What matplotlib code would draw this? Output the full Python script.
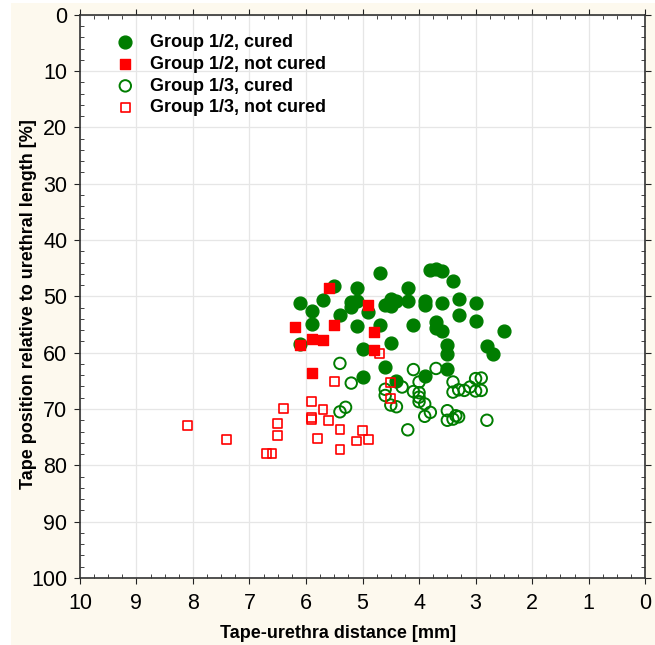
import matplotlib.pyplot as plt
from matplotlib.patches import Rectangle
from matplotlib.ticker import MultipleLocator

plt.rcParams["font.family"] = ["Liberation Sans", "DejaVu Sans"]

# Group 1/2, cured
g12_cured_x = [5.5, 4.7, 3.8, 3.7, 3.6, 3.4,
               6.1, 5.9, 5.7, 5.9, 5.4, 6.1,
               5.2, 5.1, 5.2, 5.1, 5.1, 4.9,
               4.7, 5.0, 5.0, 4.6, 4.5, 4.5, 4.4,
               4.2, 4.2, 4.1, 4.5, 4.6, 4.4,
               3.9, 3.9, 3.9, 3.7, 3.7, 3.6, 3.6,
               3.5, 3.5, 3.5, 3.3, 3.3, 3.0, 3.0,
               2.8, 2.7, 2.5]
g12_cured_y = [48.2, 45.8, 45.3, 45.1, 45.5, 47.2,
               51.2, 52.6, 50.6, 54.9, 53.3, 58.5,
               51.0, 50.8, 51.9, 48.6, 55.3, 52.7,
               55.1, 59.4, 64.3, 51.5, 50.4, 51.7, 50.9,
               48.6, 50.8, 55.0, 58.3, 62.5, 65.1,
               50.9, 51.6, 64.1, 54.6, 55.7, 56.1, 51.2,
               58.6, 60.2, 62.9, 50.5, 53.3, 51.2, 54.4,
               58.9, 60.3, 56.1]

# Group 1/2, not cured
g12_not_x = [5.6, 4.9, 6.2, 5.5, 5.9, 5.7, 4.8, 6.1, 4.8, 5.9]
g12_not_y = [48.5, 51.5, 55.5, 55.0, 57.6, 57.7, 56.3, 58.7, 59.6, 63.6]

# Group 1/3, cured
g13_cured_x = [5.4, 5.2, 5.3, 5.4,
               4.6, 4.6, 4.5, 4.4, 4.3, 4.2,
               4.1, 4.1, 4.0, 4.0, 4.0, 4.0, 3.9, 3.9, 3.8,
               3.7, 3.5, 3.5, 3.4, 3.4, 3.4, 3.35, 3.3, 3.3, 3.2, 3.1,
               3.0, 3.0, 2.9, 2.9, 2.8]
g13_cured_y = [61.9, 65.4, 69.7, 70.5,
               66.5, 67.6, 69.3, 69.6, 66.1, 73.7,
               63.0, 66.9, 65.2, 67.1, 67.9, 68.7, 69.1, 71.3, 70.6,
               62.8, 70.3, 72.0, 65.2, 67.0, 71.8, 71.2, 66.6, 71.4, 66.7, 66.1,
               64.6, 66.8, 64.5, 66.7, 72.0]

# Group 1/3, not cured
g13_not_x = [8.1, 7.4, 6.7, 6.6, 6.4, 6.5, 6.5,
             5.9, 5.9, 5.9, 5.7, 5.6, 5.8, 5.5,
             5.4, 5.4, 5.1, 5.0, 4.9, 4.7, 4.5, 4.5]
g13_not_y = [72.9, 75.4, 77.9, 77.9, 69.9, 72.6, 74.7,
             68.7, 71.5, 71.9, 70.1, 72.1, 75.3, 65.1,
             73.6, 77.2, 75.7, 73.8, 75.4, 60.1, 65.3, 68.1]

green = "#007d00"
red = "#ff0000"

fig = plt.figure(figsize=(6.55, 6.45), dpi=100, facecolor="white")
fig.patches.append(Rectangle((0.017, 0), 0.983, 0.995, transform=fig.transFigure,
                             facecolor="#fdf9ee", edgecolor="none", zorder=-10))
ax = fig.add_axes([0.122, 0.104, 0.863, 0.873])
ax.set_facecolor("white")

ax.scatter(g12_cured_x, g12_cured_y, s=85, marker="o", color=green,
           label="Group 1/2, cured", zorder=3)
ax.scatter(g12_not_x, g12_not_y, s=50, marker="s", color=red,
           label="Group 1/2, not cured", zorder=4)
ax.scatter(g13_cured_x, g13_cured_y, s=68, marker="o", facecolors="none",
           edgecolors=green, linewidths=1.4, label="Group 1/3, cured", zorder=3)
ax.scatter(g13_not_x, g13_not_y, s=40, marker="s", facecolors="none",
           edgecolors=red, linewidths=1.2, label="Group 1/3, not cured", zorder=4)

ax.set_xlim(10, 0)
ax.set_ylim(100, 0)
ax.xaxis.set_major_locator(MultipleLocator(1))
ax.xaxis.set_minor_locator(MultipleLocator(0.25))
ax.yaxis.set_major_locator(MultipleLocator(10))
ax.yaxis.set_minor_locator(MultipleLocator(2))

ax.grid(True, which="major", color="#e6e6e6", linewidth=0.9, zorder=0)
ax.set_axisbelow(True)
ax.tick_params(which="major", direction="out", length=4, labelsize=15.5,
               colors="#222222", labelcolor="black", top=True, right=True)
ax.tick_params(axis="x", which="major", pad=7)
ax.tick_params(axis="y", which="major", pad=5)
ax.tick_params(which="minor", direction="in", length=3, top=True, right=True,
               colors="#222222")
for sp in ax.spines.values():
    sp.set_color("#333333")
    sp.set_linewidth(1.2)

ax.set_xlabel("Tape-urethra distance [mm]", fontsize=13, fontweight="bold", labelpad=8)
ax.set_ylabel("Tape position relative to urethral length [%]", fontsize=13,
              fontweight="bold", labelpad=-4)
ax.xaxis.label.set_x(0.457)
ax.yaxis.label.set_y(0.487)

leg = ax.legend(loc="upper left", frameon=False, fontsize=13, handletextpad=0.35,
                labelspacing=0.26, borderaxespad=0.3, bbox_to_anchor=(0.026, 0.988))
for t in leg.get_texts():
    t.set_fontweight("bold")

plt.savefig("out.png", dpi=100, facecolor=fig.get_facecolor())
